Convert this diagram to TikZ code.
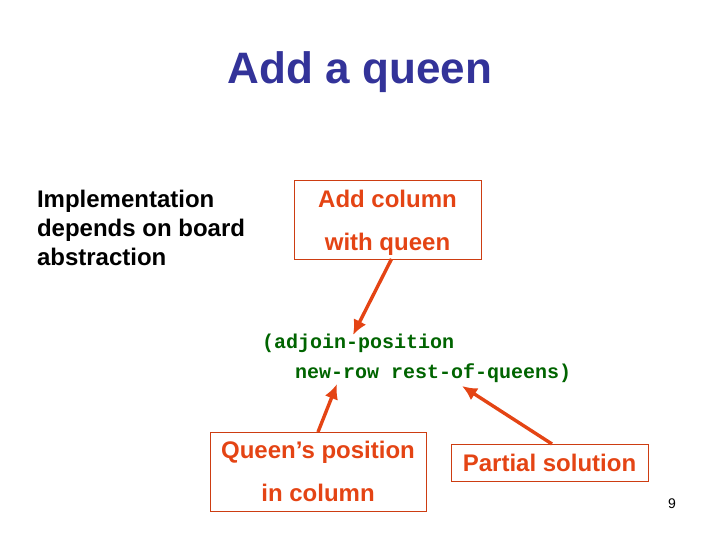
\documentclass[tikz,border=0pt]{standalone}
\usepackage{fontspec}
\setmainfont{Liberation Sans}
\setmonofont{Liberation Mono}
\usetikzlibrary{arrows.meta, calc, positioning}

\definecolor{titleblue}{RGB}{51,51,153}
\definecolor{calloutred}{RGB}{228,68,20}
\definecolor{codegreen}{RGB}{0,100,0}

\begin{document}
\begin{tikzpicture}[x=1pt,y=-1pt]
\tikzset{every node/.style={inner sep=0mm, outer sep=0mm}}

\tikzstyle{callout}=[rectangle,draw=calloutred!90!black,line width=0.8pt,text=calloutred,font=\fontsize{24}{43}\selectfont\bfseries,align=center]
\tikzstyle{code}=[anchor=base west,text=codegreen,font=\fontsize{20}{24}\selectfont\ttfamily\bfseries]
\tikzstyle{post}=[-{Latex[length=15pt,width=14pt]}, line width=3.4pt, draw=calloutred]

\useasboundingbox (0,0) rectangle (720,540);

\node[anchor=base, text=titleblue, font=\fontsize{44}{54}\selectfont\bfseries] (title) at (360,84) {Add a queen};

\node[anchor=north west, align=left, font=\fontsize{24}{29}\selectfont\bfseries] (board note) at (37,190)
    {Implementation\\depends on board\\abstraction};

\node[callout, minimum width=187pt, minimum height=79pt] (column box) at (387.5,219.5)
    {\rule{0pt}{24pt}Add column\\with queen};

\node[code] (code adjoin) at (262,348) {(adjoin-position};
\node[code] (code args) at (295,378) {new-row rest-of-queens)};

\node[callout, minimum width=216pt, minimum height=79pt] (position box) at (318,471.5)
    {Queen’s position\\in column};
\node[callout, minimum width=197pt, minimum height=37pt] (partial box) at (549.5,462.5)
    {Partial solution};

\node[anchor=base, font=\fontsize{14}{17}\selectfont] (page number) at (672,508) {9};

% arrow tips on the code
\coordinate (adjoin tip) at (353,335);
\coordinate (row tip) at (337,384);
\coordinate (rest tip) at (462,386);

\draw[post] ([xshift=4pt]column box.south) -- (adjoin tip);
\draw[post] (position box.north) -- (row tip);
\draw[post] ([xshift=2.5pt]partial box.north) -- (rest tip);

\end{tikzpicture}
\end{document}
